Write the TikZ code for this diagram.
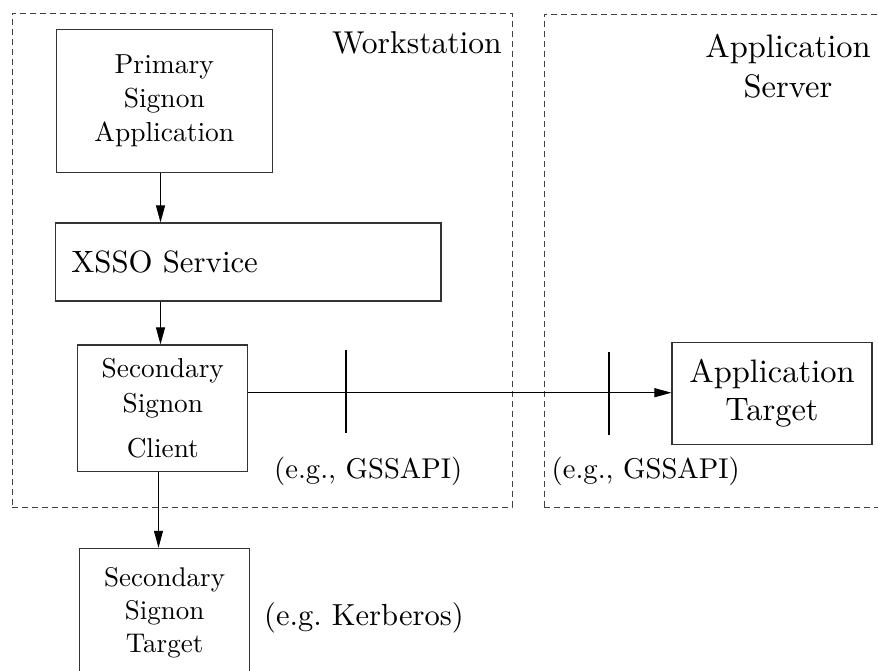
\documentclass[tikz,border=0pt]{standalone}
\usepackage{fontspec}
\setmainfont{lmroman10-regular}[Extension=.otf]
\usetikzlibrary{arrows.meta}
\frenchspacing
\begin{document}
\begin{tikzpicture}[x=1pt,y=-1pt,
  box/.style={draw=black!80, line width=1.1pt, inner sep=0pt, align=center},
  region/.style={draw=black!75, line width=0.9pt, dash pattern=on 6pt off 4pt, inner sep=0pt},
  arr/.style={draw, line width=0.9pt, -{Triangle[length=17pt,width=9pt]}},
  tickmark/.style={line width=2.4pt},
  small/.style={font=\fontsize{27.5}{34}\selectfont},
  lbl/.style={inner sep=0pt, anchor=base west},
]
\useasboundingbox (0,0) rectangle (878,670);
\clip (0,0) rectangle (878,670);

% regions
\node[region, minimum width=500pt, minimum height=494pt] (ws) at (262,260) {};
\node[region, minimum width=340pt, minimum height=493pt] (as) at (714,260.5) {};
\node[font=\fontsize{31.6}{40}\selectfont, inner sep=0pt, anchor=base east] (wslbl) at (502,53) {Workstation};
\node[font=\fontsize{32.5}{40}\selectfont, inner sep=0pt, align=center] (aslbl) at (788,66.7) {Application\\Server};

% boxes
\node[box, small, minimum width=215.5pt, minimum height=143pt] (psa) at (164.3,100.8) {Primary\\Signon\\Application};
\node[box, font=\fontsize{30.8}{38}\selectfont, minimum width=385.3pt, minimum height=78pt, text width=354pt, align=left] (xsso) at (248.3,262) {XSSO Service};
\node[box, font=\fontsize{27.3}{35}\selectfont, minimum width=170pt, minimum height=126.7pt] (ssc) at (162.8,408.3) {Secondary\\Signon\\[10pt]Client};
\node[box, font=\fontsize{27}{33}\selectfont, minimum width=170.5pt, minimum height=129.4pt] (sst) at (164.6,613) {Secondary\\Signon\\Target};
\node[box, font=\fontsize{32.5}{38}\selectfont, minimum width=200pt, minimum height=101.5pt] (at) at (772,393.3) {Application\\Target};

% connectors
\coordinate (cx) at (160.5,0);
\coordinate (cx2) at (158.5,0);
\coordinate (ry) at (0,392.7);
\draw[arr] (psa.south -| cx) -- (xsso.north -| cx);
\draw[arr] (xsso.south -| cx) -- (ssc.north -| cx);
\draw[arr] (ssc.south -| cx2) -- (sst.north -| cx2);
\draw[arr] (ssc.east |- ry) -- (at.west |- ry);

% ticks
\coordinate (t1a) at (346,350);
\coordinate (t1b) at (346,433.3);
\coordinate (t2a) at (609,351.7);
\coordinate (t2b) at (609,435);
\draw[tickmark] (t1a) -- (t1b);
\draw[tickmark] (t2a) -- (t2b);

% labels
\node[lbl, font=\fontsize{28.6}{34}\selectfont] (g1) at (274,478) {(e.g., GSSAPI)};
\node[lbl, font=\fontsize{28.6}{34}\selectfont] (g2) at (551.5,478) {(e.g., GSSAPI)};
\node[lbl, font=\fontsize{30.5}{36}\selectfont] (kb) at (264,625) {(e.g.\ Kerberos)};
\end{tikzpicture}
\end{document}
